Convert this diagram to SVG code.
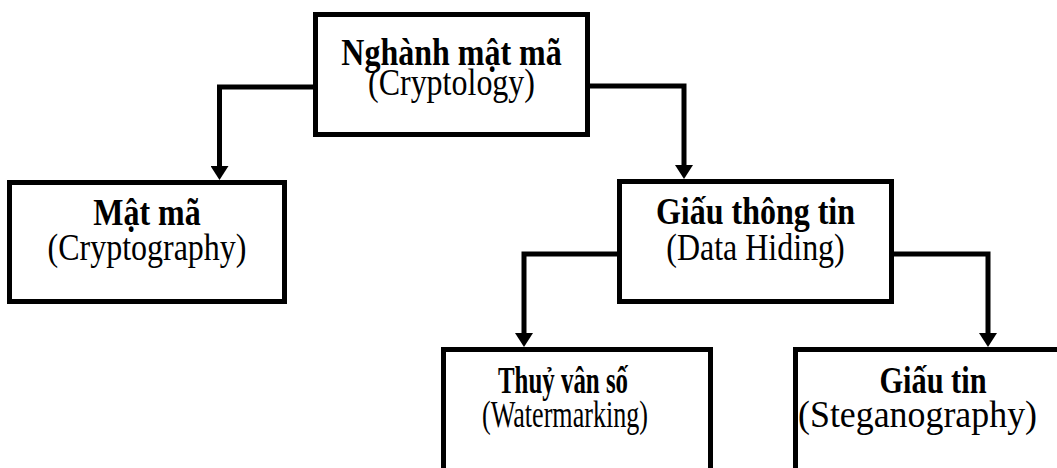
<svg xmlns="http://www.w3.org/2000/svg" width="1057" height="468" viewBox="0 0 1057 468">
  <style>
    .box { fill: #ffffff; stroke: #000000; stroke-width: 5; }
    .conn { fill: none; stroke: #000000; stroke-width: 5; stroke-linejoin: miter; }
    .t1 { font-family: "Liberation Serif", "Times New Roman", serif; font-size: 32px; font-weight: bold; text-anchor: middle; fill: #000000; }
    .t2 { font-family: "Liberation Serif", "Times New Roman", serif; font-size: 32px; text-anchor: middle; fill: #000000; }
  </style>
  <defs>
    <marker id="arrow" viewBox="0 0 14 18" refX="4" refY="9" markerWidth="14" markerHeight="18" markerUnits="userSpaceOnUse" orient="auto">
      <path d="M0,0 L14,9 L0,18 z" fill="#000000"/>
    </marker>
  </defs>
  <rect width="1057" height="468" fill="#ffffff"/>
  <g id="connectors">
    <path class="conn" d="M313,87 L219.5,87 L219.5,170" marker-end="url(#arrow)"/>
    <path class="conn" d="M590,86 L684,86 L684,169" marker-end="url(#arrow)"/>
    <path class="conn" d="M617,254 L524,254 L524,337" marker-end="url(#arrow)"/>
    <path class="conn" d="M894,254 L988,254 L988,337" marker-end="url(#arrow)"/>
  </g>
  <g id="node-cryptology">
    <rect class="box" x="315.5" y="14.5" width="272" height="120"/>
    <text class="t1" transform="translate(451.5,65) scale(1,1.2)">Nghành mật mã</text>
    <text class="t2" transform="translate(451.5,95) scale(1,1.2)">(Cryptology)</text>
  </g>
  <g id="node-cryptography">
    <rect class="box" x="9.5" y="182.5" width="275" height="119"/>
    <text class="t1" transform="translate(147,225) scale(1,1.2)">Mật mã</text>
    <text class="t2" transform="translate(147,260) scale(1,1.2)">(Cryptography)</text>
  </g>
  <g id="node-datahiding">
    <rect class="box" x="619.5" y="181.5" width="272" height="120"/>
    <text class="t1" transform="translate(755.5,224) scale(1,1.2)">Giấu thông tin</text>
    <text class="t2" transform="translate(755.5,260) scale(1,1.2)">(Data Hiding)</text>
  </g>
  <g id="node-watermarking">
    <rect class="box" x="443.5" y="349.5" width="267" height="140"/>
    <text class="t1" transform="translate(563,393) scale(1,1.2)" textLength="130" lengthAdjust="spacingAndGlyphs">Thuỷ vân số</text>
    <text class="t2" transform="translate(565,427) scale(1,1.2)" textLength="166" lengthAdjust="spacingAndGlyphs">(Watermarking)</text>
  </g>
  <g id="node-steganography">
    <rect class="box" x="795.5" y="349.5" width="300" height="140"/>
    <text class="t1" transform="translate(933,393) scale(1,1.2)" textLength="107" lengthAdjust="spacingAndGlyphs">Giấu tin</text>
    <text class="t2" transform="translate(917.5,427) scale(1,1.2)" textLength="239" lengthAdjust="spacingAndGlyphs">(Steganography)</text>
  </g>
</svg>
